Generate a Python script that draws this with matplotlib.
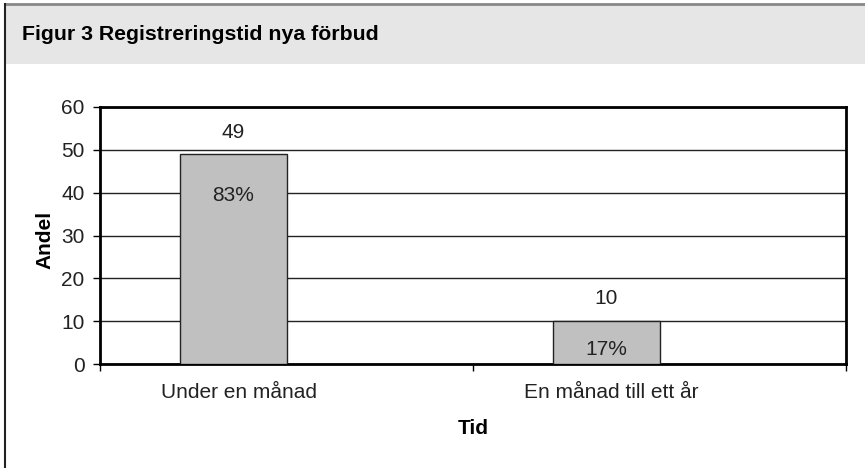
import matplotlib.pyplot as plt
from matplotlib.patches import Rectangle
from matplotlib.lines import Line2D
from matplotlib.ticker import FixedLocator
from matplotlib.transforms import ScaledTranslation

plt.rcParams['font.family'] = ['Liberation Sans', 'DejaVu Sans']

TITLE = "Figur 3 Registreringstid nya förbud"
categories = ["Under en månad", "En månad till ett år"]
counts = [49, 10]
shares = ["83%", "17%"]

W, H = 865, 468
FS = 15
TXT = "#222222"
fig = plt.figure(figsize=(W / 100, H / 100), dpi=100)

# header band and frame
fig.patches.append(Rectangle((5 / W, 1 - 64 / H), 1, 60 / H, transform=fig.transFigure,
                             facecolor="#e6e6e6", edgecolor="none", zorder=0))
fig.lines.append(Line2D([5 / W, 1], [1 - 4 / H, 1 - 4 / H], transform=fig.transFigure,
                        color="#888888", lw=2))
fig.lines.append(Line2D([5 / W, 5 / W], [0, 1 - 4 / H], transform=fig.transFigure,
                        color="#222222", lw=1.5))
fig.text(22 / W, 1 - 35 / H, TITLE, fontsize=15.3, fontweight="bold", va="center", ha="left")

ax = fig.add_axes([100 / W, 104 / H, 746 / W, 257 / H])
x = list(range(len(categories)))
ax.bar(x, counts, width=0.287, color="#c0c0c0", edgecolor="#222222", linewidth=1, zorder=3)

# label offsets (above bar, inside bar)
above = [5.0, 5.2]
inside = [-9.6, -6.5]
for xi, c, s, a, b in zip(x, counts, shares, above, inside):
    ax.text(xi, c + a, str(c), ha="center", va="center", fontsize=FS, color=TXT)
    ax.text(xi, c + b, s, ha="center", va="center", fontsize=FS, color=TXT, zorder=4)

ax.set_xlim(-0.358, 1.642)
ax.set_ylim(0, 60)
ax.set_yticks(range(0, 61, 10))
ax.yaxis.grid(True, color="#222222", lw=1)
ax.set_axisbelow(True)
ax.set_xticks(x)
ax.set_xticklabels(categories, fontsize=FS, color=TXT)
ax.tick_params(axis="x", length=0, pad=14)
shift = ScaledTranslation(5 / 100, 0, fig.dpi_scale_trans)
for lbl in ax.get_xticklabels():
    lbl.set_transform(lbl.get_transform() + shift)
ax.xaxis.set_minor_locator(FixedLocator([-0.358, 0.642, 1.642]))
ax.tick_params(axis="x", which="minor", length=5, width=1, direction="out")
ax.tick_params(axis="y", labelsize=FS, labelcolor=TXT, length=5, width=1, pad=6)
for sp in ax.spines.values():
    sp.set_linewidth(2)
    sp.set_color("black")

fig.text(45 / W, 1 - 240 / H, "Andel", rotation=90, fontsize=FS, fontweight="bold",
         ha="center", va="center")
fig.text(473 / W, 1 - 428 / H, "Tid", fontsize=FS, fontweight="bold", ha="center", va="center")

fig.savefig("out.png", dpi=100)
